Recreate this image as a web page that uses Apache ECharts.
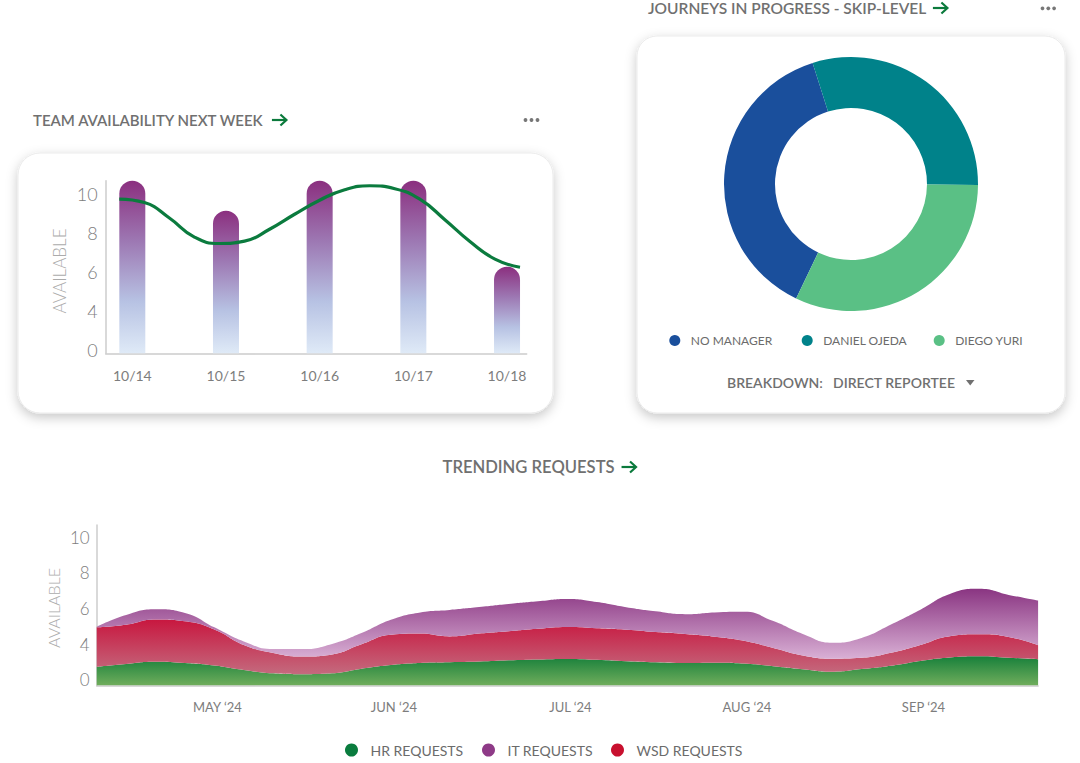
<!DOCTYPE html>
<html>
<head>
<meta charset="utf-8">
<script src="https://cdn.jsdelivr.net/npm/echarts@6/dist/echarts.min.js"></script>
<style>
html,body{margin:0;padding:0;background:#ffffff;}
#chart{width:1080px;height:763px;}
</style>
</head>
<body>
<div id="chart"></div>
<script>
// ---------- data ----------
const availDates = ['10/14', '10/15', '10/16', '10/17', '10/18'];
const availTickLabels = ['0', '4', '6', '8', '10'];
const availBars = [8.85, 7.31, 8.85, 8.85, 4.44];
// trend line sampled four times a day across the week
const availLineTimes = [
  '10/14 00h', '10/14 06h', '10/14 12h', '10/14 18h',
  '10/15 00h', '10/15 06h', '10/15 12h', '10/15 18h',
  '10/16 00h', '10/16 06h', '10/16 12h', '10/16 18h',
  '10/17 00h', '10/17 06h', '10/17 12h', '10/17 18h',
  '10/18 00h'
];
const availLine = [7.91, 7.73, 6.94, 5.96, 5.63, 5.75, 6.36, 7.13, 7.85,
                   8.39, 8.59, 8.44, 7.90, 6.85, 5.73, 4.83, 4.41];

const journeyNames = ['NO MANAGER', 'DANIEL OJEDA', 'DIEGO YURI'];
const journeyValues = [38, 30, 32];

const trendDates = [
  '2024-04-11','2024-04-16','2024-04-21','2024-04-26',
  '2024-05-01','2024-05-06','2024-05-11','2024-05-16','2024-05-21','2024-05-26',
  '2024-06-01','2024-06-06','2024-06-11','2024-06-16','2024-06-21','2024-06-26',
  '2024-07-01','2024-07-06','2024-07-11','2024-07-16','2024-07-21','2024-07-26',
  '2024-08-01','2024-08-06','2024-08-11','2024-08-16','2024-08-21','2024-08-26',
  '2024-09-01','2024-09-06','2024-09-11','2024-09-16','2024-09-21'
];
const monthTickDates = ['2024-05-01', '2024-06-01', '2024-07-01', '2024-08-01', '2024-09-01'];
const monthTickLabels = ['MAY \u201824', 'JUN \u201824', 'JUL \u201824', 'AUG \u201824', 'SEP \u201824'];
const trendTickLabels = ['0', '4', '6', '8', '10'];
const hrRequests = [1.05,1.21,1.33,1.26,1.12,0.87,0.68,0.63,0.68,0.94,1.15,1.26,1.30,1.34,1.41,1.46,1.49,1.44,1.36,1.30,1.26,1.28,1.23,1.08,0.91,0.77,0.92,1.11,1.38,1.57,1.64,1.56,1.47];
const wsdRequests = [2.21,2.20,2.37,2.34,2.02,1.40,1.14,0.99,1.06,1.37,1.69,1.65,1.45,1.57,1.63,1.72,1.79,1.77,1.77,1.70,1.63,1.46,1.28,1.02,0.77,0.73,0.63,0.72,0.89,1.19,1.23,1.16,0.79];
const itRequests = [0.03,0.54,0.57,0.47,0.12,0.20,0.22,0.42,0.59,0.63,0.85,1.19,1.49,1.49,1.53,1.54,1.57,1.47,1.26,1.16,1.11,1.36,1.63,1.51,1.21,0.90,1.12,1.59,1.98,2.37,2.55,2.36,2.50];

// ---------- styling helpers ----------
const FONT = 'Lato, "Open Sans", sans-serif';
const GREY_TEXT = '#707070';
const AXIS_GREY = '#cccccc';
const ARROW_GREEN = '#0b7a3c';

const measureCtx = document.createElement('canvas').getContext('2d');
function textWidth(str, font) { measureCtx.font = font; return measureCtx.measureText(str).width; }

function grad(stops) {
  return { type: 'linear', x: 0, y: 0, x2: 0, y2: 1,
    colorStops: stops.map(s => ({ offset: s[0], color: s[1] })) };
}
function tickFormatter(labels) {
  return function (v) {
    const i = Math.round(v / 2);
    return (Math.abs(v - i * 2) < 1e-6 && labels[i] !== undefined) ? labels[i] : '';
  };
}
function arrow(x, y) {
  return [
    { type: 'line', z: 5, shape: { x1: x, y1: y, x2: x + 14.5, y2: y },
      style: { stroke: ARROW_GREEN, lineWidth: 2.2 } },
    { type: 'polyline', z: 5, shape: { points: [[x + 8.5, y - 5.5], [x + 14.5, y], [x + 8.5, y + 5.5]] },
      style: { stroke: ARROW_GREEN, lineWidth: 2.2, fill: null } }
  ];
}
function dots(x, y, gap) {
  return [0, 1, 2].map(k => ({ type: 'circle', z: 5, shape: { cx: x + k * gap, cy: y, r: 1.9 },
    style: { fill: '#777777' } }));
}
function text(x, y, str, font, color, extra) {
  return Object.assign({ type: 'text', z: 5, x: x, y: y,
    style: { text: str, font: font, fill: color, verticalAlign: 'middle', align: 'left' } }, extra || {});
}
function titleWithArrow(x, y, str, font, gap) {
  return [text(x, y, str, font, GREY_TEXT), ...arrow(x + textWidth(str, font) + gap, y)];
}

const cardStyle = { fill: '#ffffff', stroke: '#ebebeb', lineWidth: 1,
  shadowBlur: 12, shadowOffsetY: 4, shadowColor: 'rgba(0,0,0,0.22)' };

const graphicElements = [
  { type: 'rect', z: 0, shape: { x: 18, y: 153, width: 535, height: 260, r: 22 }, style: cardStyle },
  { type: 'rect', z: 0, shape: { x: 637, y: 36, width: 428, height: 377, r: 20 }, style: cardStyle },
  ...titleWithArrow(33, 120, 'TEAM AVAILABILITY NEXT WEEK', '600 15px ' + FONT, 7.5),
  ...dots(525.5, 120, 6),
  ...titleWithArrow(648, 8, 'JOURNEYS IN PROGRESS - SKIP-LEVEL', '600 15.5px ' + FONT, 6.7),
  ...dots(1042.5, 8.3, 5.8),
  ...titleWithArrow(442.5, 467, 'TRENDING REQUESTS', '600 16.6px ' + FONT, 7),
  text(727, 382, 'BREAKDOWN:', '600 14px ' + FONT, GREY_TEXT),
  text(833, 382, 'DIRECT REPORTEE', '600 14px ' + FONT, GREY_TEXT),
  { type: 'polygon', z: 5, shape: { points: [[966, 380], [974.5, 380], [970.2, 385.5]] }, style: { fill: GREY_TEXT } },
  { type: 'text', z: 5, x: 59, y: 271, rotation: Math.PI / 2,
    style: { text: 'AVAILABLE', font: '300 17px ' + FONT, fill: '#ababab', align: 'center', verticalAlign: 'middle' } },
  { type: 'text', z: 5, x: 53, y: 608, rotation: Math.PI / 2,
    style: { text: 'AVAILABLE', font: '300 16px ' + FONT, fill: '#ababab', align: 'center', verticalAlign: 'middle' } }
];

function legendAt(name, left, top, iw, ih, fontSize) {
  return { data: [name], left: left, top: top, padding: 0, icon: 'circle', itemWidth: iw, itemHeight: ih,
    selectedMode: false, textStyle: { fontFamily: FONT, fontSize: fontSize, color: '#6b6b6b' } };
}

const option = {
  animation: false,
  backgroundColor: '#ffffff',
  textStyle: { fontFamily: FONT },
  graphic: { elements: graphicElements },
  legend: [
    legendAt(journeyNames[0], 669.3, 334.5, 22, 11, 12),
    legendAt(journeyNames[1], 801.7, 334.5, 22, 11, 12),
    legendAt(journeyNames[2], 933.7, 334.5, 22, 11, 12),
    legendAt('HR REQUESTS', 345, 743, 28, 13, 14),
    legendAt('IT REQUESTS', 482, 743, 28, 13, 14),
    legendAt('WSD REQUESTS', 611, 743, 28, 13, 14)
  ],
  grid: [
    { left: 105.7, right: 1080 - 526.7, top: 180.7, height: 172.6 },
    { left: 119.3, right: 1080 - 520, top: 180.7, height: 172.6 },
    { left: 96.7, right: 1080 - 1038.1, top: 525, height: 160.5 }
  ],
  xAxis: [
    { gridIndex: 0, type: 'value', min: -0.284, max: 4.21,
      axisLine: { show: true, onZero: false, lineStyle: { color: AXIS_GREY, width: 1.5 } },
      axisTick: { show: false }, splitLine: { show: false },
      axisLabel: { customValues: [0, 1, 2, 3, 4], formatter: v => availDates[Math.round(v)] || '',
        color: '#7d7d7d', fontSize: 14, fontFamily: FONT, margin: 15 } },
    { gridIndex: 1, type: 'category', boundaryGap: false, data: availLineTimes, show: false },
    { gridIndex: 2, type: 'category', boundaryGap: false, data: trendDates,
      axisLine: { show: true, onZero: false, lineStyle: { color: AXIS_GREY, width: 1.5 } },
      axisTick: { show: false }, splitLine: { show: false },
      axisLabel: { interval: (i, v) => monthTickDates.indexOf(v) >= 0,
        formatter: v => { const k = monthTickDates.indexOf(v); return k >= 0 ? monthTickLabels[k] : ''; },
        color: '#7d7d7d', fontSize: 13, fontFamily: FONT, margin: 15, padding: [0, 0, 0, 6] } }
  ],
  yAxis: [
    { gridIndex: 0, type: 'value', min: 0, max: 8.85, interval: 2,
      axisLine: { show: true, onZero: false, lineStyle: { color: AXIS_GREY, width: 1.5 } },
      axisTick: { show: false }, splitLine: { show: false },
      axisLabel: { formatter: tickFormatter(availTickLabels), color: '#7d7d7d', fontSize: 18,
        fontWeight: 300, fontFamily: FONT, margin: 8, verticalAlign: 'bottom', lineHeight: 6.6 } },
    { gridIndex: 1, type: 'value', min: 0, max: 8.85, show: false, splitLine: { show: false } },
    { gridIndex: 2, type: 'value', min: 0, max: 9, interval: 2,
      axisLine: { show: true, onZero: false, lineStyle: { color: AXIS_GREY, width: 1.5 } },
      axisTick: { show: false }, splitLine: { show: false },
      axisLabel: { formatter: tickFormatter(trendTickLabels), color: '#7d7d7d', fontSize: 17,
        fontWeight: 300, fontFamily: FONT, margin: 7, verticalAlign: 'bottom', lineHeight: 11.5 } }
  ],
  series: [
    { name: 'Available', type: 'bar', xAxisIndex: 0, yAxisIndex: 0, silent: true,
      data: availBars.map((v, i) => [i, v]), barWidth: 26,
      itemStyle: { borderRadius: [13, 13, 0, 0],
        color: grad([[0, '#8b2f7f'], [0.35, '#9d78b3'], [0.7, '#b7c2e3'], [1, '#dfeaf7']]) } },
    { name: 'Trend', type: 'line', xAxisIndex: 1, yAxisIndex: 1, silent: true,
      data: availLine, smooth: 0.5, symbol: 'none',
      lineStyle: { color: '#0b7b3e', width: 3.2 } },
    { name: 'Journeys', type: 'pie', silent: true, center: [851, 184], radius: [76, 127],
      startAngle: -115.6, clockwise: true,
      label: { show: false }, labelLine: { show: false },
      color: ['#1a4f9c', '#00828a', '#5ac085'],
      data: journeyNames.map((n, i) => ({ name: n, value: journeyValues[i] })) },
    { name: 'HR REQUESTS', type: 'line', xAxisIndex: 2, yAxisIndex: 2, stack: 'req', silent: true,
      data: hrRequests, smooth: 0.5, symbol: 'none', lineStyle: { width: 0 },
      itemStyle: { color: '#0a7c3e' },
      areaStyle: { opacity: 1, color: grad([[0, '#17803b'], [1, '#70ad5c']]) } },
    { name: 'WSD REQUESTS', type: 'line', xAxisIndex: 2, yAxisIndex: 2, stack: 'req', silent: true,
      data: wsdRequests, smooth: 0.5, symbol: 'none', lineStyle: { width: 0 },
      itemStyle: { color: '#c8102e' },
      areaStyle: { opacity: 1, color: grad([[0, '#c8173f'], [1, '#c46a7e']]) } },
    { name: 'IT REQUESTS', type: 'line', xAxisIndex: 2, yAxisIndex: 2, stack: 'req', silent: true,
      data: itRequests, smooth: 0.5, symbol: 'none', lineStyle: { width: 0 },
      itemStyle: { color: '#8e3a87' },
      areaStyle: { opacity: 1, color: grad([[0, '#8a3582'], [1, '#d9b0d5']]) } }
  ]
};

const chart = echarts.init(document.getElementById('chart'), null, { renderer: 'svg', width: 1080, height: 763 });
chart.setOption(option);
</script>
</body>
</html>
